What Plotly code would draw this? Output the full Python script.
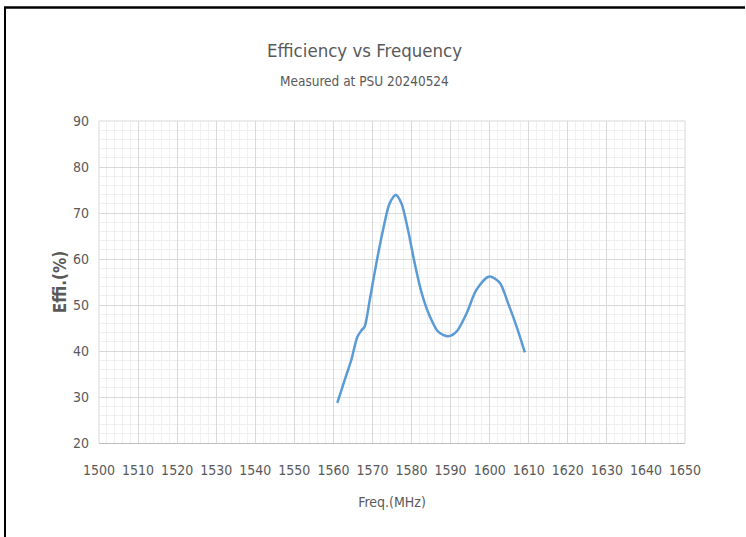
import plotly.graph_objects as go

freq = [1561.0, 1562.9, 1564.6, 1566.1, 1567.2, 1568.0, 1569.3, 1571.0, 1572.7, 1574.4,
        1576.0, 1577.4, 1579.1, 1580.8, 1582.6, 1584.7, 1586.8, 1589.4, 1591.5, 1594.1,
        1596.6, 1599.9, 1602.6, 1604.7, 1606.9, 1609.0]
effi = [28.7, 33.7, 38.1, 43.0, 44.5, 45.3, 51.1, 59.1, 66.3, 72.1,
        73.9, 72.1, 66.3, 59.1, 52.6, 47.5, 44.2, 43.2, 44.2, 48.2,
        53.3, 56.2, 54.8, 50.4, 45.3, 39.7]

title_text = "Efficiency vs Frequency"
subtitle_text = "Measured at PSU 20240524"
x_title = "Freq.(MHz)"
y_title = "Effi.(%)"

W, H = 746, 537
L, R, T, B = 99, 61, 121, 94
PW, PH = W - L - R, H - T - B

def px(x):
    return (x - L) / PW

def py(y):
    return 1 - (y - T) / PH

FONT = "'DejaVu Sans Condensed', Roboto, sans-serif"
GREY = "#595959"

fig = go.Figure()
fig.add_trace(go.Scatter(
    x=freq, y=effi, mode="lines",
    line=dict(color="#5b9bd5", width=2.5, shape="spline", smoothing=0.8),
    showlegend=False, hoverinfo="skip"))

fig.update_layout(
    width=W, height=H,
    margin=dict(l=L, r=R, t=T, b=B),
    paper_bgcolor="white", plot_bgcolor="white",
    font=dict(family=FONT, color=GREY, size=14),
    xaxis=dict(
        range=[1500, 1650], dtick=10, tick0=1500,
        showgrid=True, gridcolor="#d9d9d9", gridwidth=1,
        minor=dict(dtick=2, showgrid=True, gridcolor="#f0f0f0", gridwidth=1),
        zeroline=False, showline=True, linecolor="#bfbfbf", linewidth=1,
        ticks="", tickfont=dict(size=14, color=GREY, family=FONT),
        ticklabelstandoff=14,
        title=dict(text=x_title, font=dict(size=14, color=GREY, family=FONT), standoff=20),
        mirror=False,
    ),
    yaxis=dict(
        range=[20, 90], dtick=10, tick0=20,
        showgrid=True, gridcolor="#d9d9d9", gridwidth=1,
        minor=dict(dtick=2, showgrid=True, gridcolor="#f0f0f0", gridwidth=1),
        zeroline=False, showline=False, ticks="",
        tickfont=dict(size=14, color=GREY, family=FONT),
        ticklabelstandoff=9,
        title=dict(text="<b>" + y_title + "</b>", font=dict(size=17, color=GREY, family=FONT), standoff=2),
    ),
    annotations=[
        dict(text=title_text, x=px(364), y=py(51), xref="paper", yref="paper",
             showarrow=False, font=dict(size=18.5, color=GREY, family=FONT),
             xanchor="center", yanchor="middle"),
        dict(text=subtitle_text, x=px(364), y=py(81), xref="paper", yref="paper",
             showarrow=False, font=dict(size=13.5, color=GREY, family=FONT),
             xanchor="center", yanchor="middle"),
    ],
    shapes=[
        dict(type="line", xref="paper", yref="paper", x0=px(4), x1=px(745),
             y0=py(7.5), y1=py(7.5), line=dict(color="black", width=2.5)),
        dict(type="line", xref="paper", yref="paper", x0=px(5), x1=px(5),
             y0=py(7), y1=py(537), line=dict(color="black", width=2)),
        dict(type="line", xref="paper", yref="paper", x0=0, x1=1,
             y0=1, y1=1, line=dict(color="#d9d9d9", width=1)),
        dict(type="line", xref="paper", yref="paper", x0=0, x1=0,
             y0=0, y1=1, line=dict(color="#d9d9d9", width=1)),
        dict(type="line", xref="paper", yref="paper", x0=1, x1=1,
             y0=0, y1=1, line=dict(color="#d9d9d9", width=1)),
    ],
)

fig.write_html("out.html", config={"displayModeBar": False},
               post_script="document.body.style.margin='0';document.body.style.overflow='hidden';")
